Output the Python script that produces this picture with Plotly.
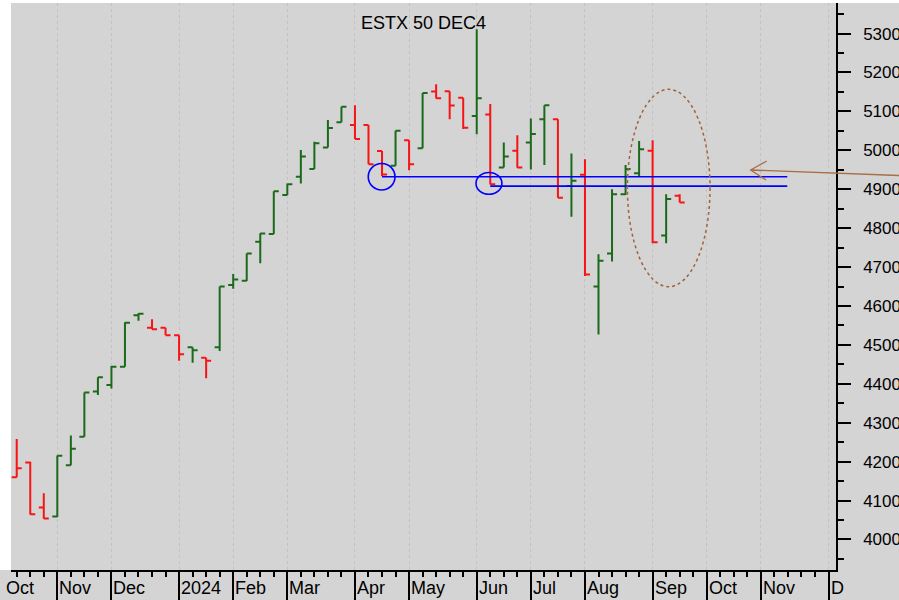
import plotly.graph_objects as go
import pandas as pd

# ---------------- data (weekly bars, dated by Friday) ----------------
week_dates = [
    "2023-10-13", "2023-10-20", "2023-10-27", "2023-11-03", "2023-11-10",
    "2023-11-17", "2023-11-24", "2023-12-01", "2023-12-08", "2023-12-15",
    "2023-12-22", "2023-12-29", "2024-01-05", "2024-01-12", "2024-01-19",
    "2024-01-26", "2024-02-02", "2024-02-09", "2024-02-16", "2024-02-23",
    "2024-03-01", "2024-03-08", "2024-03-15", "2024-03-22", "2024-03-29",
    "2024-04-05", "2024-04-12", "2024-04-19", "2024-04-26", "2024-05-03",
    "2024-05-10", "2024-05-17", "2024-05-24", "2024-05-31", "2024-06-07",
    "2024-06-14", "2024-06-21", "2024-06-28", "2024-07-05", "2024-07-12",
    "2024-07-19", "2024-07-26", "2024-08-02", "2024-08-09", "2024-08-16",
    "2024-08-23", "2024-08-30", "2024-09-06", "2024-09-13", "2024-09-20",
]
opens = [4160, 4198, 4082, 4059, 4191, 4264, 4380, 4397, 4444, 4576,
         4544, 4544, 4525, 4494, 4467, 4494, 4654, 4665, 4765, 4785,
         4885, 4932, 4952, 5007, 5072, 5065, 5065, 4998, 4960, 5026,
         5005, 5151, 5152, 5135, 5088, 5092, 4956, 4999, 5020, 5080,
         5080, 4908, 4937, 4650, 4735, 4887, 4941, 4999, 4781, 4883]
highs = [4258, 4200, 4119, 4216, 4267, 4378, 4417, 4446, 4558, 4581,
         4566, 4544, 4525, 4494, 4467, 4650, 4682, 4735, 4787, 4895,
         4915, 5001, 5022, 5078, 5112, 5116, 5065, 4998, 5050, 5026,
         5147, 5170, 5152, 5135, 5311, 5119, 5020, 5039, 5082, 5116,
         5080, 4992, 4977, 4733, 4900, 4962, 5024, 5026, 4887, 4887]
lows = [4160, 4064, 4053, 4058, 4191, 4264, 4371, 4388, 4444, 4562,
        4540, 4525, 4459, 4454, 4414, 4484, 4644, 4664, 4710, 4785,
        4885, 4915, 4952, 5007, 5072, 5029, 4964, 4934, 4960, 4949,
        5005, 5133, 5080, 5055, 5041, 4912, 4956, 4955, 4951, 4962,
        4878, 4829, 4677, 4527, 4714, 4885, 4934, 4761, 4761, 4866]
closes = [4183, 4065, 4054, 4215, 4233, 4378, 4417, 4444, 4557, 4580,
          4540, 4525, 4476, 4486, 4459, 4650, 4668, 4735, 4786, 4895,
          4913, 4984, 5018, 5057, 5112, 5029, 4964, 4938, 5050, 4964,
          5147, 5134, 5115, 5058, 5134, 4913, 4984, 4956, 5042, 5116,
          4878, 4922, 4681, 4716, 4887, 4952, 5003, 4764, 4875, 4866]
prior_close = 4200  # close of the week before the first visible bar

month_dates = ["2023-11-03", "2023-12-01", "2024-01-05", "2024-02-02",
               "2024-03-01", "2024-04-05", "2024-05-03", "2024-06-07",
               "2024-07-05", "2024-08-02", "2024-09-06", "2024-10-04",
               "2024-11-01", "2024-12-06"]
month_labels = ["Nov", "Dec", "2024", "Feb", "Mar", "Apr", "May", "Jun",
                "Jul", "Aug", "Sep", "Oct", "Nov", "D"]
first_label = "Oct"
y_tick_vals = [4000, 4100, 4200, 4300, 4400, 4500, 4600, 4700, 4800,
               4900, 5000, 5100, 5200, 5300]

title_text = "ESTX 50 DEC4"
support_upper = 4932   # Apr-19 low
support_lower = 4908   # Jun-14 low
support_end = "2024-11-14 16:00"

GREEN = "#1b6a1b"
RED = "#f81414"
BG = "#d4d4d4"
BLUE = "#0000ff"
BROWN = "#a0643c"
FONT = "Liberation Sans, Arial"

# ---------------- colour split: close vs previous close ----------------
prev = [prior_close] + closes[:-1]
up_idx = [i for i in range(len(closes)) if closes[i] >= prev[i]]
dn_idx = [i for i in range(len(closes)) if closes[i] < prev[i]]


def sub(lst, idx):
    return [lst[i] for i in idx]


fig = go.Figure()
for idx, col in ((up_idx, GREEN), (dn_idx, RED)):
    fig.add_trace(go.Ohlc(
        x=sub(week_dates, idx), open=sub(opens, idx), high=sub(highs, idx),
        low=sub(lows, idx), close=sub(closes, idx),
        increasing=dict(line=dict(color=col, width=2)),
        decreasing=dict(line=dict(color=col, width=2)),
        tickwidth=0.37, showlegend=False, hoverinfo="skip",
    ))

# weekly tick positions for the axis
week_ticks = [d.strftime("%Y-%m-%d") for d in
              pd.date_range("2023-10-06", "2024-12-06", freq="7D")]

x_range = ["2023-10-10 01:00", "2024-12-09 21:00"]
y_range = [3921.6, 5378.5]


def px(x):
    return (x - 11) / 825


def py(y):
    return (570 - y) / 567


shapes = []
# white margins
shapes.append(dict(type="rect", xref="paper", yref="paper",
                   x0=px(0), x1=0, y0=0, y1=py(0),
                   fillcolor="white", line=dict(width=0), layer="below"))
shapes.append(dict(type="rect", xref="paper", yref="paper",
                   x0=px(0), x1=px(899), y0=1, y1=py(0),
                   fillcolor="white", line=dict(width=0), layer="below"))

# support lines
shapes.append(dict(type="line", xref="x", yref="y",
                   x0=week_dates[27], x1=support_end,
                   y0=support_upper, y1=support_upper,
                   line=dict(color=BLUE, width=1.6)))
shapes.append(dict(type="line", xref="x", yref="y",
                   x0=week_dates[35], x1=support_end,
                   y0=support_lower, y1=support_lower,
                   line=dict(color=BLUE, width=1.6)))


def ts(d, hours):
    return (pd.Timestamp(d) + pd.Timedelta(hours=hours)).strftime("%Y-%m-%d %H:%M")


# circles around the lows
shapes.append(dict(type="circle", xref="x", yref="y",
                   x0=ts(week_dates[27], -5 - 166), x1=ts(week_dates[27], -5 + 166),
                   y0=support_upper - 34, y1=support_upper + 34,
                   line=dict(color=BLUE, width=1.6)))
shapes.append(dict(type="circle", xref="x", yref="y",
                   x0=ts(week_dates[35], -16 - 161), x1=ts(week_dates[35], -16 + 161),
                   y0=lows[35] + 3 - 28, y1=lows[35] + 3 + 28,
                   line=dict(color=BLUE, width=1.6)))

# dotted ellipse around the last weeks
shapes.append(dict(type="circle", xref="x", yref="y",
                   x0="2024-08-23 23:00", x1="2024-10-05 17:00",
                   y0=4649.5, y1=5156.7,
                   line=dict(color=BROWN, width=1.5, dash="dot")))

# arrow pointing at the zone (paper coordinates)
arrow_path = (f"M {px(899):.4f} {py(175.5):.4f} L {px(750.7):.4f} {py(170):.4f} "
              f"M {px(766.7):.4f} {py(161):.4f} L {px(750.7):.4f} {py(170):.4f} "
              f"L {px(766):.4f} {py(180):.4f}")
shapes.append(dict(type="path", xref="paper", yref="paper", path=arrow_path,
                   line=dict(color="#a86e46", width=1.3)))

annotations = []
annotations.append(dict(text=title_text, xref="paper", yref="paper",
                        x=0.5, y=py(23), xanchor="center", yanchor="middle",
                        showarrow=False,
                        font=dict(family=FONT, size=18, color="black")))
for d, lab in zip(month_dates, month_labels):
    annotations.append(dict(text=lab, xref="x", yref="paper", x=d, y=py(588),
                            xanchor="left", yanchor="middle", xshift=0,
                            showarrow=False,
                            font=dict(family=FONT, size=18, color="black")))
annotations.append(dict(text=first_label, xref="paper", yref="paper",
                        x=px(4), y=py(588), xanchor="left", yanchor="middle",
                        showarrow=False,
                        font=dict(family=FONT, size=18, color="black")))

fig.update_layout(
    width=899, height=600,
    margin=dict(l=11, r=63, t=3, b=30, pad=0),
    paper_bgcolor=BG, plot_bgcolor=BG,
    showlegend=False,
    font=dict(family=FONT, size=17, color="black"),
    shapes=shapes, annotations=annotations,
    xaxis=dict(
        type="date", range=x_range, rangeslider=dict(visible=False),
        tickmode="array", tickvals=month_dates, showticklabels=False,
        ticks="outside", ticklen=30, tickwidth=1.5, tickcolor="black",
        showgrid=True, gridcolor="#c2c2c2", griddash="dot", gridwidth=1.2,
        showline=True, linecolor="black", linewidth=1.5,
        zeroline=False, automargin=False, fixedrange=True,
        minor=dict(tickmode="array", tickvals=week_ticks, ticks="outside",
                   ticklen=5, tickwidth=1.5, tickcolor="black", showgrid=False),
    ),
    yaxis=dict(
        side="right", range=y_range,
        tickmode="array", tickvals=y_tick_vals,
        ticks="outside", ticklen=13, tickwidth=1.5, tickcolor="black",
        tickfont=dict(family=FONT, size=17, color="black"),
        ticklabelstandoff=9,
        showgrid=False, zeroline=False,
        showline=True, linecolor="black", linewidth=1.5,
        automargin=False, fixedrange=True,
        minor=dict(dtick=50, tick0=0, ticks="outside", ticklen=6,
                   tickwidth=1.5, tickcolor="black", showgrid=False),
    ),
)

fig.write_html(
    "out.html",
    config={"displayModeBar": False},
    post_script="document.body.style.margin='0';document.body.style.padding='0';",
)
